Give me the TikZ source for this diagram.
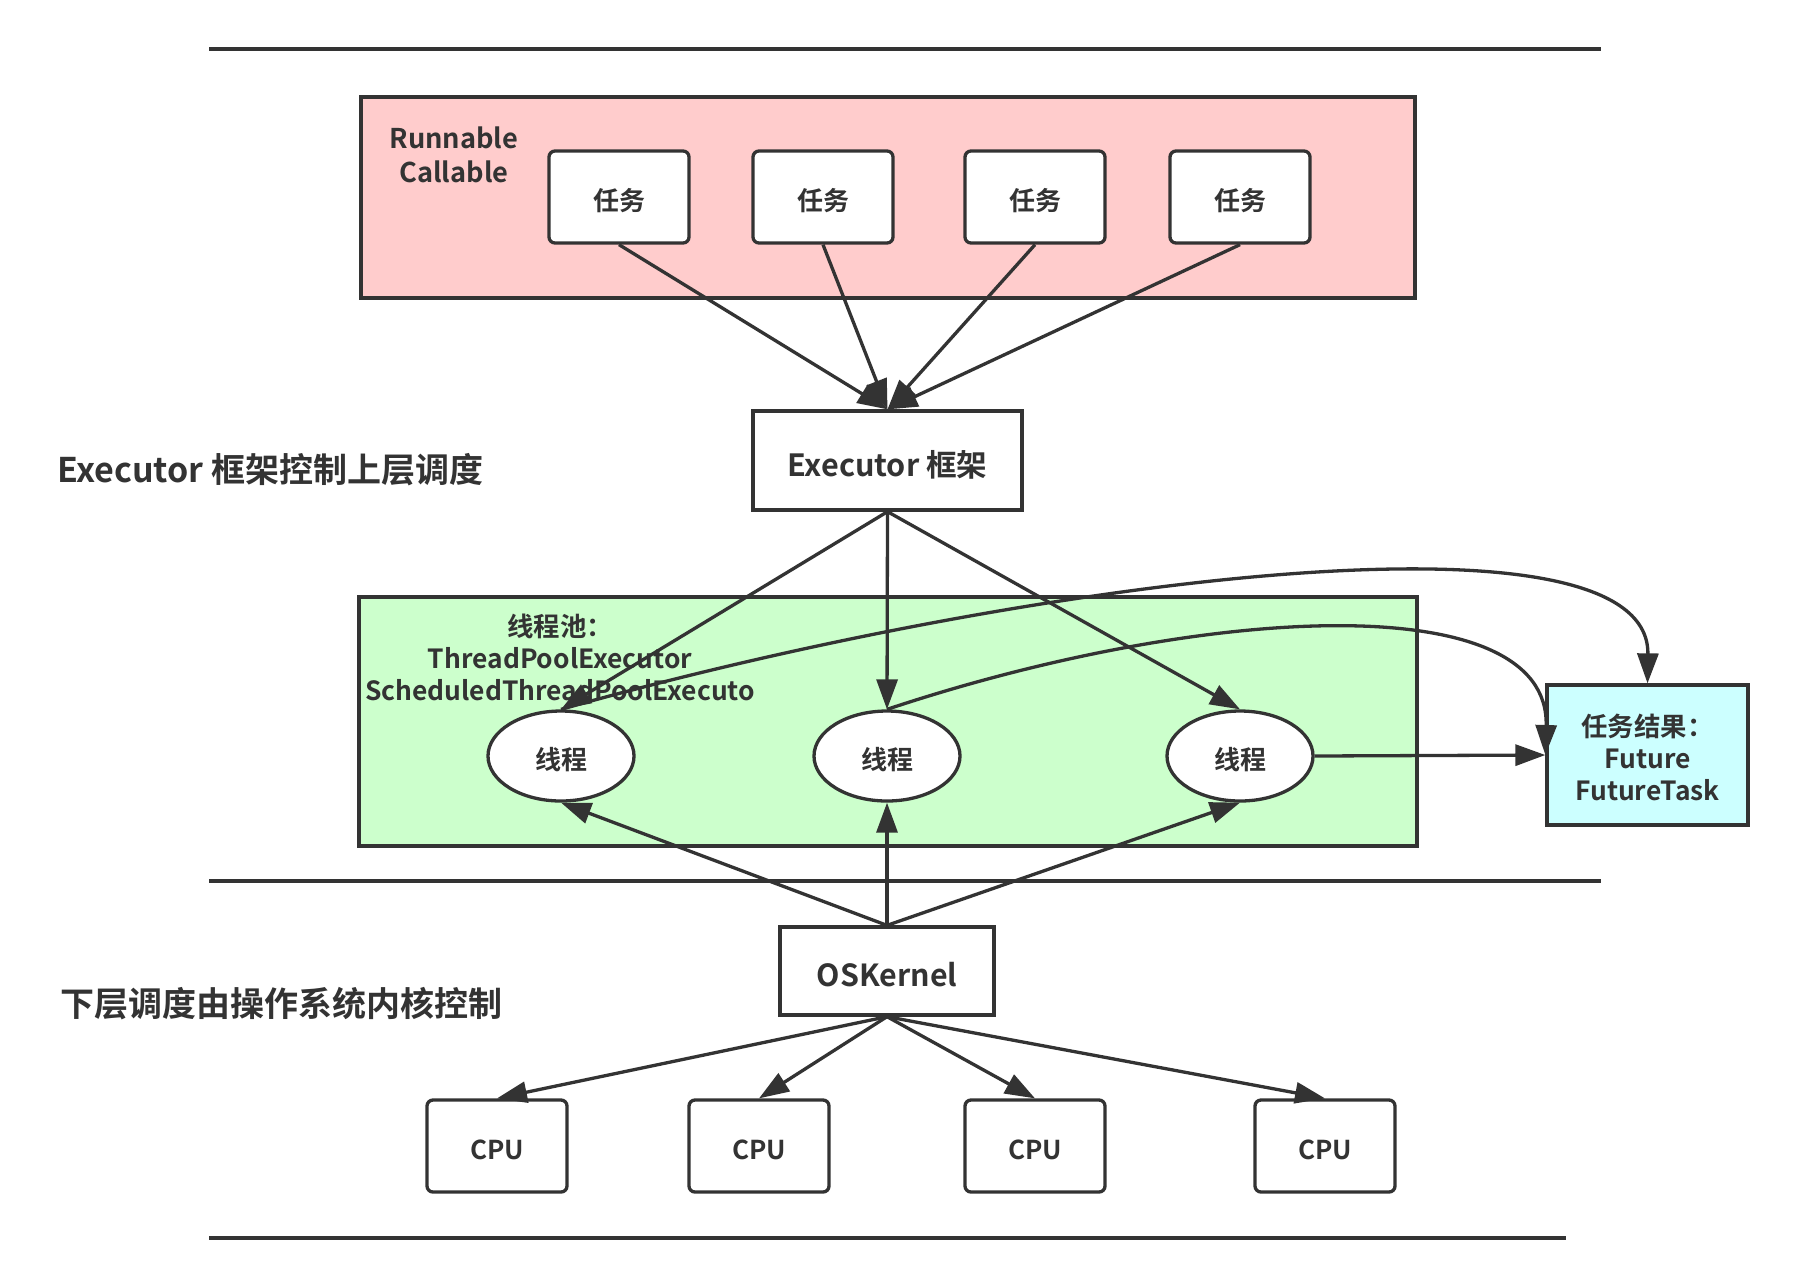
\documentclass[tikz,border=0pt]{standalone}
\usepackage{fontspec}
\setmainfont{Noto Sans CJK SC}[BoldFont={Noto Sans CJK SC Bold}]
\usetikzlibrary{arrows.meta,shapes.geometric}
\definecolor{ink}{HTML}{333333}
\definecolor{pinkfill}{HTML}{FFCCCC}
\definecolor{greenfill}{HTML}{CCFFCC}
\definecolor{cyanfill}{HTML}{CCFFFF}
\tikzset{
  txt/.style={text=ink, font=\bfseries\fontsize{13}{17}\selectfont},
  box/.style={draw=ink, line width=1.65pt, txt, inner sep=0pt},
  oneline/.style={text height=13.6pt, text depth=0pt},
  task/.style={box, oneline, fill=white, rounded corners=3pt, minimum width=70pt, minimum height=46pt},
  cpubox/.style={task},
  thread/.style={box, oneline, ellipse, fill=white, minimum width=73pt, minimum height=45pt},
  arr/.style={draw=ink, line width=1.65pt, -{Triangle[length=15pt,width=10.5pt]}},
  sep/.style={draw=ink, line width=1.65pt},
  biglabel/.style={txt, anchor=west, font=\bfseries\fontsize{17}{20}\selectfont}
}
\begin{document}
\begin{tikzpicture}[x=0.5pt,y=-0.5pt]
\useasboundingbox[fill=white] (0,0) rectangle (1797,1287);

% separators
\draw[sep] (209,49) -- (1601,49);
\draw[sep] (209,881) -- (1601,881);
\draw[sep] (209,1238) -- (1566,1238);

% groups
\node[box, fill=pinkfill, minimum width=527pt, minimum height=100.5pt] (tasks) at (888,197.5) {};
\node[box, fill=greenfill, minimum width=529pt, minimum height=124.5pt] (pool) at (888,721.5) {};

\node[txt, align=center, font=\bfseries\fontsize{13.6}{17}\selectfont] (rc) at (454,155) {Runnable\\Callable};
\node[txt, align=center, font=\bfseries\fontsize{13.2}{16}\selectfont] (pooltxt) at (560,657) {线程池：\\ThreadPoolExecutor\\ScheduledThreadPoolExecuto};

% tasks
\node[task] (t1) at (619,197) {任务};
\node[task] (t2) at (823,197) {任务};
\node[task] (t3) at (1035,197) {任务};
\node[task] (t4) at (1240,197) {任务};

% executor
\node[box, fill=white, minimum width=134.5pt, minimum height=49.5pt, font=\bfseries\fontsize{15.3}{17}\selectfont, text height=15.8pt, text depth=0pt] (exec) at (887.5,460.5) {Executor 框架};

% labels
\node[biglabel] (lab1) at (50,470) {Executor 框架控制上层调度};
\node[biglabel] (lab2) at (53,1004) {下层调度由操作系统内核控制};

% threads
\node[thread] (th1) at (561,756) {线程};
\node[thread] (th2) at (887,756) {线程};
\node[thread] (th3) at (1240,756) {线程};

% result
\node[box, fill=cyanfill, minimum width=100.5pt, minimum height=70pt, font=\bfseries\fontsize{13.2}{16}\selectfont] (res) at (1647.5,755) {\raisebox{-3.4pt}[\height][\depth]{\begin{tabular}{@{}c@{}}任务结果：\\Future\\FutureTask\end{tabular}}};

% OS kernel
\node[box, fill=white, minimum width=107pt, minimum height=44pt, font=\bfseries\fontsize{15.2}{17}\selectfont, text height=15.8pt, text depth=0pt] (os) at (887,971) {OSKernel};

% CPUs
\node[cpubox] (c1) at (497,1146) {CPU};
\node[cpubox] (c2) at (759,1146) {CPU};
\node[cpubox] (c3) at (1035,1146) {CPU};
\node[cpubox] (c4) at (1325,1146) {CPU};

% arrows tasks -> executor
\foreach \t in {t1,t2,t3,t4} \draw[arr] (\t.south) -- (exec.north);
% executor -> threads
\foreach \t in {th1,th2,th3} \draw[arr] (exec.south) -- (\t.north);
% kernel -> threads
\foreach \t in {th1,th2,th3} \draw[arr] (os.north) -- (\t.south);
% kernel -> cpus
\foreach \c in {c1,c2,c3,c4} \draw[arr] (os.south) -- (\c.north);

% results
\draw[arr] (th1.north) .. controls (1000,585) and (1650,495) .. (res.north);
\draw[arr] (th2.north) .. controls (1200,605) and (1550,585) .. (res.west);
\draw[arr] (th3.east) -- (res.west);
\end{tikzpicture}
\end{document}
